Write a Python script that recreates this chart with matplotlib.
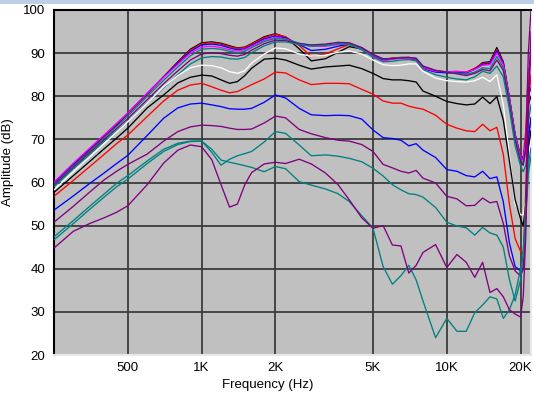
import matplotlib
matplotlib.use("Agg")
import matplotlib.pyplot as plt
from matplotlib.patches import Rectangle

plt.rcParams['font.family'] = ['Liberation Sans', 'DejaVu Sans']

# ---------------- data ----------------
freqs = [250, 300, 350, 400, 450, 500, 600, 700, 800, 900,
         1000, 1100, 1200, 1300, 1400, 1500, 1600, 1800, 2000, 2200,
         2500, 2800, 3200, 3600, 4000, 4500, 5000, 5500, 6000, 6500,
         7000, 7500, 8000, 9000, 10000, 11000, 12000, 13000, 14000, 15000,
         16000, 17000, 18000, 19000, 20000, 20500, 21000, 21500, 22050]

k1 = [59.6, 64.0, 67.4, 70.5, 73.3, 75.9, 80.5, 84.5, 88.0, 90.9,
      92.4, 92.6, 92.3, 91.7, 91.2, 91.4, 92.2, 93.8, 94.5, 93.7,
      91.0, 88.2, 88.7, 90.2, 91.5, 91.0, 89.6, 88.4, 88.8, 88.9,
      88.8, 88.4, 86.6, 85.8, 85.6, 85.6, 85.5, 86.3, 87.8, 88.0,
      91.3, 88.0, 79.5, 71.0, 65.8, 65.2, 69.5, 78.0, 80.0]
r1 = [59.8, 64.2, 67.6, 70.7, 73.5, 76.0, 80.6, 84.5, 87.9, 90.7,
      92.2, 92.4, 92.1, 91.5, 91.1, 91.3, 92.1, 93.6, 94.4, 93.8,
      91.8, 89.2, 89.8, 91.0, 92.0, 90.9, 89.5, 88.5, 88.9, 89.0,
      89.0, 88.7, 86.5, 85.7, 85.5, 85.7, 85.6, 86.5, 87.6, 87.8,
      90.8, 87.8, 79.8, 71.2, 66.3, 65.8, 72.0, 86.0, 88.0]
b1 = [59.9, 64.3, 67.8, 70.9, 73.6, 76.1, 80.7, 84.5, 87.7, 90.4,
      91.9, 92.1, 91.8, 91.2, 90.8, 91.0, 91.8, 93.3, 94.0, 93.5,
      92.0, 90.6, 90.9, 91.6, 92.1, 90.8, 89.3, 88.3, 88.7, 88.8,
      88.8, 88.5, 86.4, 85.6, 85.4, 85.5, 85.4, 86.3, 87.4, 87.6,
      90.5, 87.6, 79.6, 71.0, 66.0, 65.5, 70.0, 80.0, 82.0]
m1 = [60.1, 64.5, 68.0, 71.0, 73.7, 76.1, 80.7, 84.4, 87.4, 90.0,
      91.4, 91.6, 91.3, 90.8, 90.5, 90.8, 91.6, 93.0, 93.7, 93.3,
      92.2, 91.6, 91.6, 92.0, 92.2, 90.9, 89.2, 88.2, 88.6, 88.8,
      88.8, 88.6, 86.5, 85.8, 85.7, 85.8, 85.6, 86.2, 87.2, 87.3,
      90.0, 87.3, 79.4, 70.8, 65.8, 65.2, 69.5, 84.0, 90.0]
t1a = [59.4, 63.8, 67.2, 70.3, 73.0, 75.4, 80.0, 83.7, 86.8, 89.4,
       90.9, 91.1, 90.9, 90.4, 90.1, 90.4, 91.3, 92.7, 93.4, 93.2,
       92.3, 91.8, 91.9, 92.2, 92.2, 91.2, 89.6, 88.6, 88.8, 89.0,
       89.0, 88.8, 86.9, 86.0, 85.6, 85.4, 85.1, 85.6, 86.6, 86.4,
       89.2, 86.6, 78.8, 70.3, 65.2, 64.5, 67.0, 74.0, 78.0]
p1a = [59.2, 63.5, 66.9, 69.9, 72.5, 74.8, 79.2, 82.9, 85.9, 88.4,
       89.8, 90.1, 89.9, 89.5, 89.3, 89.7, 90.7, 92.2, 93.0, 92.9,
       92.2, 91.9, 92.1, 92.5, 92.4, 91.3, 89.7, 88.7, 88.7, 88.9,
       89.0, 88.8, 87.0, 86.0, 85.6, 85.2, 84.8, 85.3, 86.2, 85.9,
       88.4, 86.0, 78.2, 69.8, 64.8, 64.0, 68.0, 90.0, 100.0]
t1b = [59.0, 63.2, 66.5, 69.5, 72.0, 74.2, 78.5, 82.0, 85.0, 87.5,
       88.9, 89.2, 89.1, 88.7, 88.6, 89.0, 90.1, 91.7, 92.6, 92.6,
       92.0, 91.6, 91.8, 92.2, 92.0, 90.8, 89.0, 88.0, 88.1, 88.4,
       88.5, 88.2, 86.2, 85.0, 84.4, 84.0, 83.8, 84.5, 85.8, 85.3,
       87.0, 84.5, 77.0, 68.5, 63.8, 62.5, 64.0, 70.0, 75.0]
w2 = [58.3, 62.5, 66.0, 69.0, 71.7, 74.1, 78.4, 82.2, 84.8, 86.6,
      87.2, 87.1, 86.6, 85.7, 85.3, 85.9, 87.7, 89.8, 91.2, 91.0,
      89.8, 89.3, 89.5, 90.2, 90.5, 89.8, 88.4, 87.3, 87.1, 87.2,
      87.5, 87.5, 85.8, 84.2, 83.6, 83.4, 83.3, 83.6, 84.4, 83.4,
      85.0, 78.0, 66.4, 55.0, 52.5, 52.5, 56.0, 66.0, 70.0]
k2 = [57.7, 61.6, 64.9, 67.8, 70.3, 72.6, 77.3, 80.3, 83.1, 84.4,
      84.9, 84.7, 83.8, 83.0, 83.4, 84.8, 86.5, 88.6, 88.8, 88.4,
      87.2, 86.3, 86.8, 87.0, 87.2, 86.4, 85.3, 84.1, 83.8, 83.8,
      83.6, 83.3, 81.2, 80.0, 78.8, 78.3, 78.0, 78.2, 79.8, 78.3,
      79.9, 74.5, 65.0, 56.0, 51.5, 50.0, 55.0, 68.0, 72.0]
r2 = [56.8, 60.5, 63.7, 66.5, 69.0, 71.0, 75.3, 78.9, 81.4, 82.6,
      83.0, 82.2, 81.4, 80.8, 81.1, 81.9, 82.7, 84.0, 85.6, 85.4,
      83.8, 82.7, 83.0, 83.0, 82.9, 81.6, 80.5, 78.9, 78.4, 78.4,
      77.7, 77.3, 77.0, 75.6, 73.5, 72.6, 72.0, 71.8, 73.5, 72.0,
      72.8, 66.5, 55.0, 47.0, 44.0, 43.5, 58.0, 78.0, 85.0]
b2 = [53.6, 56.9, 59.8, 62.2, 64.4, 66.3, 70.9, 74.9, 77.3, 78.2,
      78.4, 78.0, 77.6, 77.1, 77.0, 77.0, 77.2, 78.6, 80.3, 79.6,
      77.2, 75.7, 75.5, 75.6, 75.5, 74.7, 72.2, 70.4, 70.2, 69.8,
      68.5, 69.0, 67.5, 65.8, 63.0, 62.6, 61.6, 61.3, 62.6, 60.9,
      61.3, 55.5, 46.0, 40.5, 39.5, 40.0, 52.0, 70.0, 75.0]
p2 = [50.8, 54.5, 57.8, 60.6, 62.6, 64.2, 66.6, 69.6, 71.8, 72.9,
      73.3, 73.2, 73.0, 72.6, 72.3, 72.3, 72.4, 73.8, 75.4, 75.0,
      72.3, 71.3, 70.4, 69.8, 69.6, 68.8, 67.2, 64.2, 63.4, 62.6,
      62.2, 62.8, 61.0, 59.9, 56.8, 56.2, 54.6, 54.7, 56.4, 55.3,
      55.6, 50.5, 43.0, 39.5, 38.3, 40.0, 55.0, 80.0, 92.0]
t2a = [47.4, 51.2, 54.5, 57.3, 59.8, 61.6, 65.0, 67.7, 69.1, 69.6,
       69.6, 67.0, 64.0, 65.4, 66.2, 66.7, 67.2, 69.4, 71.8, 71.4,
       68.7, 66.2, 66.4, 66.1, 65.6, 64.8, 63.3, 61.5, 59.5, 58.3,
       57.4, 57.2, 56.6, 54.2, 50.8, 49.9, 49.5, 47.8, 49.6, 48.3,
       47.8, 45.0, 37.5, 32.5, 37.5, 44.0, 54.0, 64.0, 68.0]
t2b = [46.7, 50.5, 53.8, 56.6, 59.0, 60.8, 64.4, 67.2, 68.8, 69.5,
       69.6, 67.7, 65.2, 64.7, 64.3, 63.9, 63.5, 62.5, 63.7, 63.2,
       60.2, 59.4, 58.5, 57.4, 55.6, 52.3, 49.4, 40.5, 36.4, 38.4,
       40.8, 37.4, 32.5, 24.0, 28.5, 25.5, 25.5, 29.8, 31.6, 33.5,
       33.0, 28.5, 30.5, 34.0, 40.0, 43.0, 52.0, 62.0, 66.0]
p3 = [44.8, 48.7, 50.5, 51.8, 53.1, 54.6, 59.5, 64.5, 67.5, 68.7,
      68.3, 65.3, 59.5, 54.3, 55.0, 59.5, 62.3, 64.3, 64.7, 64.4,
      65.4, 64.3, 62.2, 59.5, 56.0, 51.8, 49.4, 50.0, 45.5, 45.3,
      39.0, 40.8, 43.8, 45.6, 40.3, 43.3, 41.5, 38.0, 41.5, 34.5,
      35.4, 33.5, 30.5, 29.5, 28.8, 33.5, 48.0, 75.0, 95.0]

curves = [k1, r1, b1, m1, t1a, p1a, t1b, w2, k2, r2, b2, p2, t2a, t2b, p3]
colors = ['#000000', '#ff0000', '#0000ff', '#ff00ff', '#008080', '#800080', '#008080',
          '#ffffff', '#000000', '#ff0000', '#0000ff', '#800080', '#008080', '#008080', '#800080']

xticks = [500, 1000, 2000, 5000, 10000, 20000]
xtick_labels = ['500', '1K', '2K', '5K', '10K', '20K']
yticks = [20, 30, 40, 50, 60, 70, 80, 90, 100]

# ---------------- figure ----------------
W, H = 534, 396
fig = plt.figure(figsize=(W / 100, H / 100), dpi=100)
fig.patch.set_facecolor('white')
fig.patches.append(Rectangle((0, 1 - 4 / H), 1, 4 / H, transform=fig.transFigure,
                             facecolor='#bccfe4', edgecolor='none'))

ax = fig.add_axes([54 / W, 41 / H, 477 / W, 345 / H])
ax.set_facecolor('#c0c0c0')
ax.set_xscale('log')
ax.set_xlim(250, 22050)
ax.set_ylim(20, 100)

for f in xticks:
    ax.axvline(f, color='#3c3c3c', lw=1.3, zorder=1)
for v in yticks:
    ax.axhline(v, color='#3c3c3c', lw=1.3, zorder=1)

for c, col in zip(curves, colors):
    ax.plot(freqs, c, color=col, lw=0.95, zorder=3)

ax.set_xticks(xticks)
ax.set_xticklabels(xtick_labels)
ax.minorticks_off()
ax.set_yticks(yticks)
ax.tick_params(axis='both', length=0, labelsize=9.5, colors='black')
ax.tick_params(axis='x', pad=5)
ax.tick_params(axis='y', pad=6.5)

for s in ['left', 'top']:
    ax.spines[s].set_color('#000000')
    ax.spines[s].set_linewidth(1.5)
for s in ['right', 'bottom']:
    ax.spines[s].set_color('#e8e8e8')
    ax.spines[s].set_linewidth(1.5)

fig.text(268 / W, 1 - 385 / H, 'Frequency (Hz)', ha='center', va='center', fontsize=9.5)
fig.text(8 / W, 1 - 162 / H, 'Amplitude (dB)', ha='center', va='center',
         rotation=90, fontsize=9.5)

fig.savefig('out.png', dpi=100)
